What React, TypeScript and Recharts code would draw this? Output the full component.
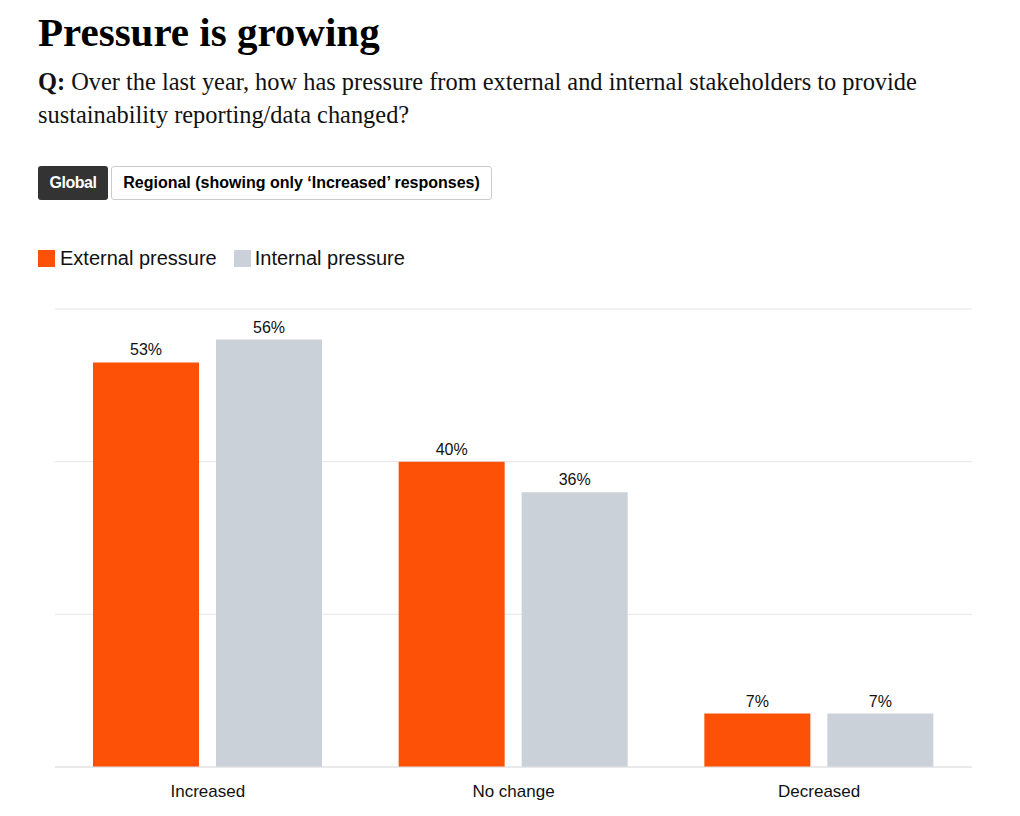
import React from "react"
import { BarChart, Bar, XAxis, YAxis, CartesianGrid, LabelList } from "recharts"

// Values (percent of respondents)
const categories = ["Increased", "No change", "Decreased"]
const externalPressure = [53, 40, 7]
const internalPressure = [56, 36, 7]
const yTicks = [0, 20, 40, 60]

const ORANGE = "#FD5108"
const GREY = "#CBD1D9"
const SANS = "'Liberation Sans', Arial, Helvetica, sans-serif"
const SERIF = "'Liberation Serif', Georgia, serif"

const data = categories.map((name, i) => ({
  name,
  external: externalPressure[i],
  internal: internalPressure[i],
}))

export default function App() {
  return (
    <div style={{ position: "absolute", left: 0, top: 0, width: 1020, height: 816, background: "#fff" }}>
      <div
        style={{
          position: "absolute",
          left: 38,
          top: 10,
          fontFamily: SERIF,
          fontWeight: 700,
          fontSize: 41,
          lineHeight: "44px",
          color: "#000",
        }}
      >
        Pressure is growing
      </div>
      <div
        style={{
          position: "absolute",
          left: 38,
          top: 65,
          width: 975,
          fontFamily: SERIF,
          fontSize: 24.4,
          lineHeight: "33px",
          color: "#111",
        }}
      >
        <b>Q:</b> Over the last year, how has pressure from external and internal stakeholders to provide
        <br />
        sustainability reporting/data changed?
      </div>

      {/* toggle buttons */}
      <div style={{ position: "absolute", left: 38, top: 166, display: "flex", gap: 3, fontFamily: SANS }}>
        <div
          style={{
            background: "#333",
            color: "#fff",
            fontWeight: 700,
            fontSize: 16,
            height: 34,
            width: 70,
            borderRadius: 3,
            display: "flex",
            alignItems: "center",
            justifyContent: "center",
            boxSizing: "border-box",
            letterSpacing: -0.5,
          }}
        >
          Global
        </div>
        <div
          style={{
            background: "#fff",
            color: "#000",
            fontWeight: 700,
            fontSize: 16,
            height: 34,
            width: 381,
            border: "1px solid #ccc",
            borderRadius: 3,
            display: "flex",
            alignItems: "center",
            justifyContent: "center",
            boxSizing: "border-box",
          }}
        >
          Regional (showing only ‘Increased’ responses)
        </div>
      </div>

      {/* legend */}
      <div
        style={{
          position: "absolute",
          left: 38,
          top: 247,
          display: "flex",
          alignItems: "center",
          fontFamily: SANS,
          fontSize: 20,
          color: "#111",
        }}
      >
        <span style={{ width: 17, height: 17, background: ORANGE, display: "inline-block", marginRight: 5 }} />
        <span style={{ marginRight: 17 }}>External pressure</span>
        <span style={{ width: 17, height: 17, background: GREY, display: "inline-block", marginRight: 4 }} />
        <span>Internal pressure</span>
      </div>

      <div style={{ position: "absolute", left: 0, top: 0 }}>
        <BarChart
          width={1020}
          height={816}
          data={data}
          margin={{ top: 309, right: 48, bottom: 19, left: 55 }}
          barCategoryGap={38}
          barGap={17}
        >
          <CartesianGrid vertical={false} stroke="#e6e6e6" />
          <YAxis hide domain={[0, 60]} ticks={yTicks} />
          <XAxis
            dataKey="name"
            tickLine={false}
            axisLine={{ stroke: "#e0e0e0" }}
            tickMargin={12}
            tick={{ fontFamily: SANS, fontSize: 17, fill: "#111" }}
          />
          <Bar dataKey="external" name="External pressure" fill={ORANGE} isAnimationActive={false}>
            <LabelList
              dataKey="external"
              position="top"
              offset={7}
              formatter={(v: number) => `${v}%`}
              style={{ fontFamily: SANS, fontSize: 16, fill: "#111" }}
            />
          </Bar>
          <Bar dataKey="internal" name="Internal pressure" fill={GREY} isAnimationActive={false}>
            <LabelList
              dataKey="internal"
              position="top"
              offset={7}
              formatter={(v: number) => `${v}%`}
              style={{ fontFamily: SANS, fontSize: 16, fill: "#111" }}
            />
          </Bar>
        </BarChart>
      </div>
    </div>
  )
}
